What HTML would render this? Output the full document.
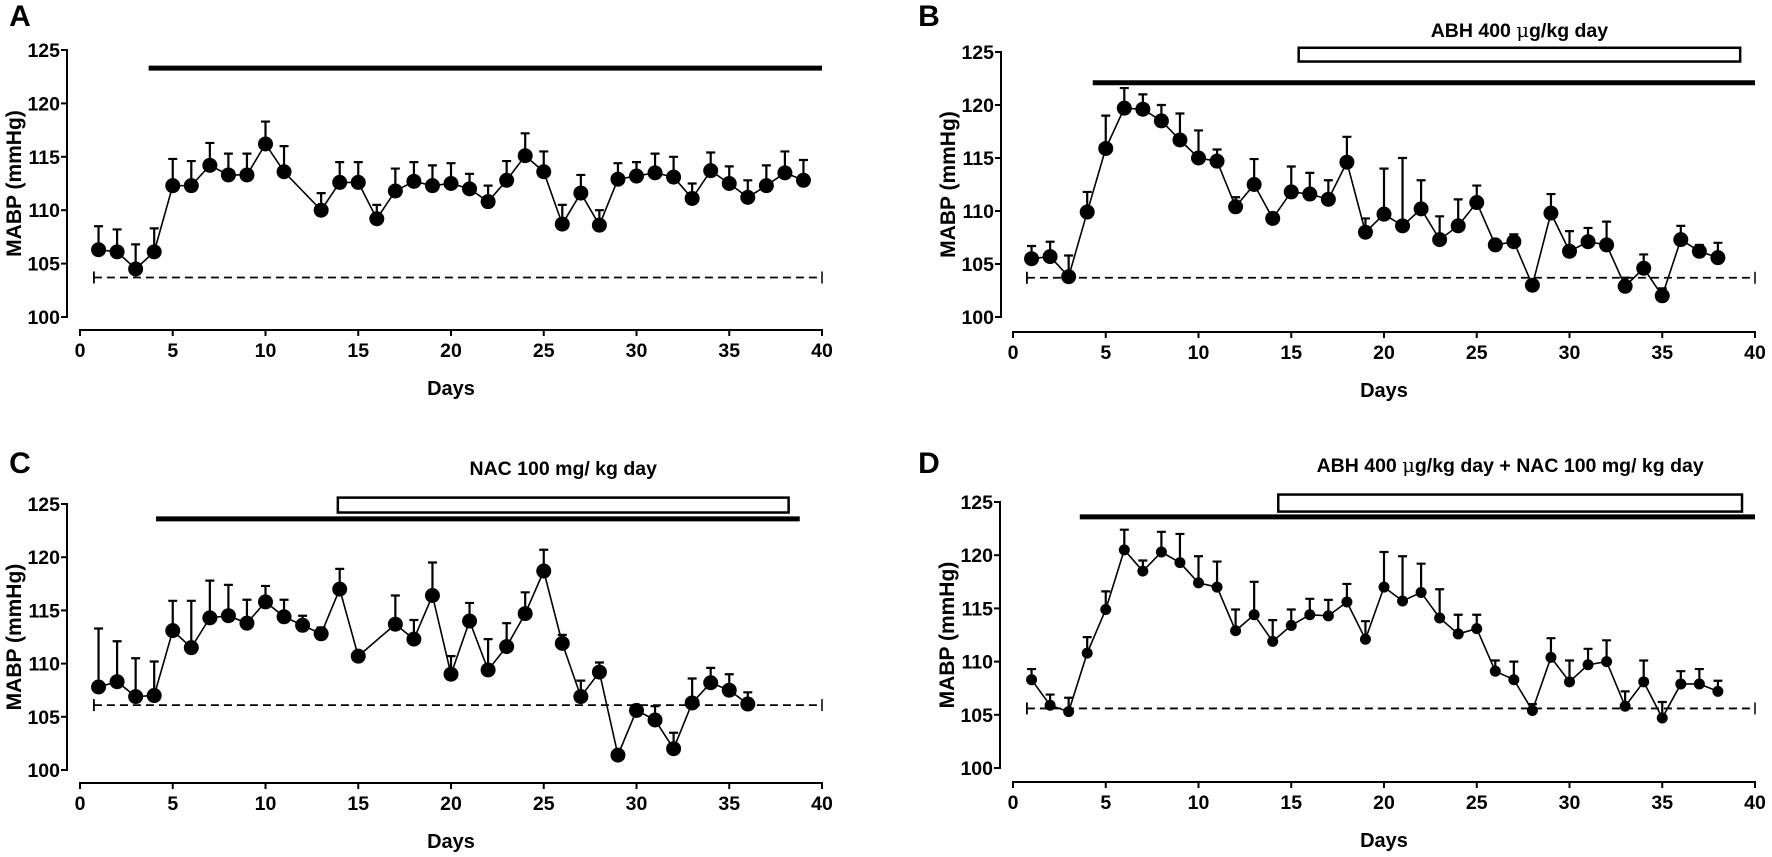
<!DOCTYPE html>
<html><head><meta charset="utf-8"><style>
html,body{margin:0;padding:0;background:#fff;}
svg{display:block;font-family:"Liberation Sans",Arial,sans-serif;font-weight:bold;}
</style></head><body>
<svg id="fig" width="1772" height="857" viewBox="0 0 1772 857" xmlns="http://www.w3.org/2000/svg"></svg>
<script>
// ---- Panel A data ----
const daysA = [1,2,3,4,5,6,7,8,9,10,11,13,14,15,16,17,18,19,20,21,22,23,24,25,26,27,28,29,30,31,32,33,34,35,36,37,38,39];
const meanA = [106.3,106.1,104.5,106.1,112.3,112.3,114.2,113.3,113.3,116.2,113.6,110,112.6,112.6,109.2,111.8,112.7,112.3,112.5,112,110.8,112.8,115.1,113.6,108.7,111.6,108.6,112.9,113.2,113.5,113.1,111.1,113.7,112.5,111.2,112.3,113.5,112.8];
const semA = [2.2,2.1,2.3,2.2,2.5,2.3,2.1,2,2,2.1,2.4,1.6,1.9,1.9,1.3,2.1,1.8,1.9,1.9,1.4,1.5,1.8,2.1,1.9,1.8,1.7,1.4,1.5,1.3,1.8,1.9,1.4,1.7,1.6,1.6,1.9,2,1.9];
// ---- Panel B data ----
const daysB = [1,2,3,4,5,6,7,8,9,10,11,12,13,14,15,16,17,18,19,20,21,22,23,24,25,26,27,28,29,30,31,32,33,34,35,36,37,38];
const meanB = [105.5,105.7,103.8,109.9,115.9,119.7,119.6,118.5,116.7,115,114.7,110.4,112.5,109.3,111.8,111.6,111.1,114.6,108,109.7,108.6,110.2,107.3,108.6,110.8,106.8,107.1,103,109.8,106.2,107.1,106.8,102.9,104.6,102,107.3,106.2,105.6];
const semB = [1.2,1.4,2,1.9,3.1,1.9,1.4,1.5,2.5,2.6,1.1,0.9,2.4,0,2.4,2,1.8,2.4,1.3,4.3,6.4,2.7,2.2,2.5,1.6,0,0.7,0,1.8,1.9,1.3,2.2,0.8,1.3,0.7,1.3,0.6,1.4];
// ---- Panel C data ----
const daysC = [1,2,3,4,5,6,7,8,9,10,11,12,13,14,15,17,18,19,20,21,22,23,24,25,26,27,28,29,30,31,32,33,34,35,36];
const meanC = [107.8,108.3,106.9,107,113.1,111.5,114.3,114.5,113.8,115.8,114.4,113.6,112.8,117,110.7,113.7,112.3,116.4,109,114,109.4,111.6,114.7,118.7,111.9,106.9,109.2,101.4,105.6,104.7,102,106.3,108.2,107.5,106.2];
const semC = [5.5,3.8,3.6,3.2,2.8,4.4,3.5,2.9,2.2,1.5,1.6,0.9,0.6,1.9,0,2.7,1.8,3.1,1.7,1.7,2.9,2.2,2,2,0.8,1.5,0.9,0,0.3,1.3,1.5,2.3,1.4,1.5,1.1];
// ---- Panel D data ----
const daysD = [1,2,3,4,5,6,7,8,9,10,11,12,13,14,15,16,17,18,19,20,21,22,23,24,25,26,27,28,29,30,31,32,33,34,35,36,37,38];
const meanD = [108.3,105.9,105.3,110.8,114.9,120.5,118.5,120.3,119.3,117.4,117,112.9,114.4,111.9,113.4,114.4,114.3,115.6,112.1,117,115.7,116.5,114.1,112.6,113.1,109.1,108.3,105.4,110.4,108.1,109.7,110,105.8,108.1,104.7,107.9,107.9,107.2];
const semD = [1,1,1.3,1.5,1.7,1.9,1,1.9,2.7,2.5,2.4,2,3.1,2,1.5,1.5,1.5,1.7,1.7,3.3,4.2,2.7,2.7,1.8,1.3,1,1.7,0.6,1.8,2,1.5,2,1.4,2,1.5,1.2,1.4,1];
const xTicks = [0,5,10,15,20,25,30,35,40];
const yTicks = [100,105,110,115,120,125];
const baselines = [103.7,103.7,106.1,105.6];

const NS = "http://www.w3.org/2000/svg";
const svg = document.getElementById('fig');
function mk(tag, attrs, parent){
  const e = document.createElementNS(NS, tag);
  for (const k in attrs) e.setAttribute(k, attrs[k]);
  (parent||svg).appendChild(e);
  return e;
}

const panels = [
  {id:'a', letter:'A', lx:20, ly:26, yAxisX:67, x0:80, y125:50, y100:317, axisY:330, days:daysA, mean:meanA, sem:semA, r:7.5, base:baselines[0], bar:[3.7,40,123.3], box:null, pre:'', post:''},
  {id:'b', letter:'B', lx:929, ly:26, yAxisX:1001, x0:1013, y125:52, y100:317, axisY:332, days:daysB, mean:meanB, sem:semB, r:7.5, base:baselines[1], bar:[4.3,40,122.1], box:[15.4,39.2,125.4,124.1], pre:'ABH 400 ', mu:true, post:'g/kg day', ty:30},
  {id:'c', letter:'C', lx:20, ly:473, yAxisX:67, x0:80, y125:504, y100:770, axisY:783, days:daysC, mean:meanC, sem:semC, r:7.5, base:baselines[2], bar:[4.1,38.8,123.6], box:[13.9,38.2,125.6,124.2], pre:'NAC 100 mg/ kg day', mu:false, post:'', ty:468},
  {id:'d', letter:'D', lx:929, ly:473, yAxisX:1000, x0:1013, y125:502, y100:768, axisY:782, days:daysD, mean:meanD, sem:semD, r:5.5, base:baselines[3], bar:[3.6,40,123.6], box:[14.3,39.3,125.7,124.1], pre:'ABH 400 ', mu:true, post:'g/kg day + NAC 100 mg/ kg day', ty:465}
];

panels.forEach(p => {
  const dx = 18.55;
  const X = d => p.x0 + d*dx;
  const Y = v => p.y100 - (v-100)*(p.y100-p.y125)/25;
  const g = mk('g', {});
  
  

  const L = mk('text', {x:p.lx, y:p.ly, 'font-size':30, 'text-anchor':'middle'}, g);
  
  
  L.textContent = p.letter;

  const ya = mk('g', {}, g);
  
  
  mk('line', {x1:p.yAxisX, y1:Y(125)-1, x2:p.yAxisX, y2:Y(100)+1, stroke:'#000','stroke-width':2}, ya);
  yTicks.forEach(t => {
    mk('line', {x1:p.yAxisX-6, y1:Y(t), x2:p.yAxisX, y2:Y(t), stroke:'#000','stroke-width':2}, ya);
    const tx = mk('text', {x:p.yAxisX-7, y:Y(t)+7, 'font-size':19.5, 'text-anchor':'end'}, ya);
    
    
    tx.textContent = t;
  });
  const yt = mk('text', {x:0, y:0, 'font-size':21, 'text-anchor':'middle', transform:`translate(${p.yAxisX-46},${(Y(125)+Y(100))/2}) rotate(-90)`}, g);
  
  
  yt.textContent = 'MABP (mmHg)';

  const xa = mk('g', {}, g);
  
  
  mk('line', {x1:X(0)-1, y1:p.axisY, x2:X(40)+1, y2:p.axisY, stroke:'#000','stroke-width':2}, xa);
  xTicks.forEach(t => {
    mk('line', {x1:X(t), y1:p.axisY, x2:X(t), y2:p.axisY+6, stroke:'#000','stroke-width':2}, xa);
    const tx = mk('text', {x:X(t), y:p.axisY+27, 'font-size':19.5, 'text-anchor':'middle'}, xa);
    
    
    tx.textContent = t;
  });
  const xt = mk('text', {x:X(20), y:p.axisY+65, 'font-size':20, 'text-anchor':'middle'}, g);
  
  
  xt.textContent = 'Days';

  const bl = mk('g', {}, g);
  
  
  mk('line', {x1:X(0.75), y1:Y(p.base), x2:X(40), y2:Y(p.base), stroke:'#000','stroke-width':1.8,'stroke-dasharray':'8 5'}, bl);
  mk('line', {x1:X(0.75), y1:Y(p.base)-6, x2:X(0.75), y2:Y(p.base)+6, stroke:'#000','stroke-width':1.8}, bl);
  mk('line', {x1:X(40), y1:Y(p.base)-6, x2:X(40), y2:Y(p.base)+6, stroke:'#000','stroke-width':1.5}, bl);

  const tb = mk('line', {x1:X(p.bar[0]), y1:Y(p.bar[2]), x2:X(p.bar[1]), y2:Y(p.bar[2]), stroke:'#000','stroke-width':5}, g);
  
  

  if (p.box) {
    const bx = mk('rect', {x:X(p.box[0]), y:Y(p.box[2]), width:X(p.box[1])-X(p.box[0]), height:Y(p.box[3])-Y(p.box[2]), fill:'#fff', stroke:'#000','stroke-width':2.5}, g);
    
    
    const tt = mk('text', {x:(X(p.box[0])+X(p.box[1]))/2, y:p.ty+7, 'font-size':19.5, 'text-anchor':'middle'}, g);
    
    
    const s1 = mk('tspan', {}, tt); s1.textContent = p.pre;
    if (p.mu) {
      const s2 = mk('tspan', {'font-family':'"DejaVu Serif","Liberation Serif",serif','font-weight':'normal'}, tt); s2.textContent = '\u03bc';
    }
    const s3 = mk('tspan', {}, tt); s3.textContent = p.post;
  }

  const s = mk('g', {}, g);
  
  
  p.days.forEach((d,i) => {
    const top = Y(p.mean[i] + p.sem[i]);
    if (p.sem[i] > 0) {
      const eb = mk('path', {d:`M${X(d)},${Y(p.mean[i])} V${top} M${X(d)-4.5},${top} H${X(d)+4.5}`, stroke:'#000','stroke-width':2.2, fill:'none'}, s);
      
      
    }
  });
  const pts = p.days.map((d,i) => X(d)+','+Y(p.mean[i])).join(' ');
  const ln = mk('polyline', {points:pts, fill:'none', stroke:'#000','stroke-width':1.6}, s);
  
  
  p.days.forEach((d,i) => {
    const c = mk('circle', {cx:X(d), cy:Y(p.mean[i]), r:p.r, fill:'#000'}, s);
    
    
  });
});
</script>
</body></html>
